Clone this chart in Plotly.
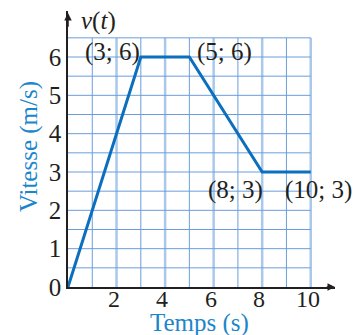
import plotly.graph_objects as go

# Data
temps = [0, 3, 5, 8, 10]
vitesse = [0, 6, 6, 3, 3]
point_labels = ["(3; 6)", "(5; 6)", "(8; 3)", "(10; 3)"]
x_ticks = [2, 4, 6, 8, 10]
y_ticks = [0, 1, 2, 3, 4, 5, 6]

blue = "#0b6fbd"
title_blue = "#1c86cc"
serif = "Liberation Serif"
fs = 25

fig = go.Figure()

# grid paper (x every 1, y every 0.5)
shapes = []
for i in range(1, 11):
    even = i % 2 == 0
    shapes.append(dict(type="line", xref="x", yref="y", x0=i, x1=i, y0=0, y1=6.5,
                       line=dict(color="#a9c8ea" if even else "#6a9edb", width=2.5 if even else 1),
                       layer="below"))
for j in range(1, 14):
    shapes.append(dict(type="line", xref="x", yref="y", x0=0, x1=10, y0=j * 0.5, y1=j * 0.5,
                       line=dict(color="#6a9edb", width=1), layer="below"))

fig.add_trace(go.Scatter(x=temps, y=vitesse, mode="lines",
                         line=dict(color=blue, width=3), hoverinfo="skip"))

# page body has an 8px margin, so margins are shifted by 8px
fig.update_layout(
    width=364, height=335,
    margin=dict(l=60, r=37, t=3, b=56, autoexpand=False),
    plot_bgcolor="white", paper_bgcolor="white",
    showlegend=False,
    shapes=shapes,
    font=dict(family=serif, size=fs, color="#231f20"),
    xaxis=dict(range=[0, 11], tickvals=x_ticks, showticklabels=False, showgrid=False, zeroline=False,
               showline=True, linecolor="#231f20", linewidth=1.5, ticks="", ticklen=0),
    yaxis=dict(range=[0, 7.2], tickvals=y_ticks, showgrid=False, zeroline=False,
               showline=True, linecolor="#231f20", linewidth=1.5, ticks="", ticklen=0),
)

ann = []
# x tick labels
for t in x_ticks:
    ann.append(dict(x=t, y=0, xref="x", yref="y", text=str(t), showarrow=False,
                    xanchor="center", yanchor="middle", yshift=-12, xshift=-3,
                    font=dict(size=24)))
# arrows on axes
ann.append(dict(x=11, y=0, ax=10.6, ay=0, xref="x", yref="y", axref="x", ayref="y",
                text="", showarrow=True, arrowhead=2, arrowsize=1, arrowwidth=1.5, arrowcolor="#231f20"))
ann.append(dict(x=0, y=7.15, ax=0, ay=6.75, xref="x", yref="y", axref="x", ayref="y",
                text="", showarrow=True, arrowhead=2, arrowsize=1, arrowwidth=1.5, arrowcolor="#231f20"))
# axis names
ann.append(dict(x=0.45, y=6.95, xref="x", yref="y", text="<i>v</i>(<i>t</i>)", showarrow=False,
                xanchor="left", yanchor="middle"))
ann.append(dict(x=10.6, y=-0.27, xref="x", yref="y", text="<i>t</i>", showarrow=False,
                xanchor="left", yanchor="middle"))
ann.append(dict(x=-0.146, y=0.507, xref="paper", yref="paper", text="Vitesse (m/s)", textangle=-90,
                showarrow=False, xanchor="center", yanchor="middle", font=dict(color=title_blue)))
ann.append(dict(x=0.494, y=-0.131, xref="paper", yref="paper", text="Temps (s)",
                showarrow=False, xanchor="center", yanchor="middle", font=dict(color=title_blue)))
# point labels
ann.append(dict(x=temps[1], y=vitesse[1], text=point_labels[0], showarrow=False,
                xanchor="right", yanchor="middle", yshift=5, xshift=1))
ann.append(dict(x=temps[2], y=vitesse[2], text=point_labels[1], showarrow=False,
                xanchor="left", yanchor="middle", yshift=5, xshift=6))
ann.append(dict(x=temps[3], y=vitesse[3], text=point_labels[2], showarrow=False,
                xanchor="right", yanchor="middle", yshift=-18, xshift=3))
ann.append(dict(x=temps[4], y=vitesse[4], text=point_labels[3], showarrow=False,
                xanchor="center", yanchor="middle", yshift=-18, xshift=8))
fig.update_layout(annotations=ann)

fig.write_html("out.html")
